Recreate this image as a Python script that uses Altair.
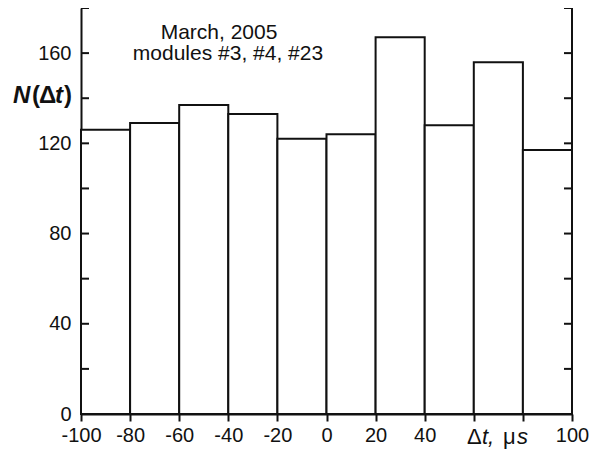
import altair as alt
import pandas as pd

# histogram data
bin_start = [-100, -80, -60, -40, -20, 0, 20, 40, 60, 80]
bin_end = [-80, -60, -40, -20, 0, 20, 40, 60, 80, 100]
counts = [126, 129, 137, 133, 122, 124, 167, 128, 156, 117]

x_ticks = [-100, -80, -60, -40, -20, 0, 20, 40, 60, 80, 100]
y_labels = [0, 40, 80, 120, 160]
y_minor = [20, 40, 60, 80, 100, 120, 140, 160, 180]

note_lines = ["March, 2005", "modules #3, #4, #23"]
# axis titles split into upright / italic pieces
ytitle_parts = ["N", "(", "Δ", "t", ")"]
ytitle_italic = [True, False, False, True, False]
xtitle_parts = ["Δ", "t,", "μ", "s"]
xtitle_italic = [False, True, False, True]

FONT = "Liberation Sans"
INK = "#111111"
W, H = 491, 406

bars_df = pd.DataFrame({"start": bin_start, "end": bin_end, "n": counts})
ticks_df = pd.DataFrame({"v": y_minor})
frame_df = pd.DataFrame({"x": [100], "y0": [0], "y1": [180]})
one_df = pd.DataFrame({"k": [0]})

xscale = alt.Scale(domain=[-100, 100], nice=False, zero=False)
yscale = alt.Scale(domain=[0, 180], nice=False)

bars = alt.Chart(bars_df).mark_rect(
    fill="white", stroke=INK, strokeWidth=2
).encode(
    x=alt.X("start:Q", scale=xscale, title=None, axis=alt.Axis(
        values=x_ticks,
        labelExpr="(datum.value == 60 || datum.value == 80) ? '' : '' + datum.value",
        labelOverlap=False, labelFlush=False,
        tickSize=7, tickWidth=2, tickColor=INK,
        domainWidth=2, domainColor=INK,
        labelFont=FONT, labelFontSize=20, labelColor=INK, labelPadding=4,
        grid=False,
    )),
    x2="end:Q",
    y=alt.Y("n:Q", scale=yscale, title=None, axis=alt.Axis(
        values=y_labels, ticks=False, labelOverlap=False, labelFlush=False,
        domainWidth=2, domainColor=INK,
        labelFont=FONT, labelFontSize=20, labelColor=INK, labelPadding=10,
        grid=False,
    )),
    y2=alt.datum(0),
)

left_ticks = alt.Chart(ticks_df).mark_rule(color=INK, strokeWidth=2).encode(
    y=alt.Y("v:Q", scale=yscale), x=alt.value(0), x2=alt.value(8)
)
right_ticks = alt.Chart(ticks_df).mark_rule(color=INK, strokeWidth=2).encode(
    y=alt.Y("v:Q", scale=yscale), x=alt.value(W - 8), x2=alt.value(W)
)
right_axis = alt.Chart(frame_df).mark_rule(color=INK, strokeWidth=2).encode(
    x=alt.X("x:Q", scale=xscale), y=alt.Y("y0:Q", scale=yscale), y2="y1:Q"
)

layers = [bars, left_ticks, right_ticks, right_axis]

note_pos = [(138, 25), (147, 46)]
for line, (px, py) in zip(note_lines, note_pos):
    layers.append(alt.Chart(one_df).mark_text(
        text=line, font=FONT, fontSize=21, color=INK,
        align="center", baseline="middle"
    ).encode(x=alt.value(px), y=alt.value(py)))

ytitle_x = [-68, -49, -42, -26, -17]
for part, ital, px in zip(ytitle_parts, ytitle_italic, ytitle_x):
    layers.append(alt.Chart(one_df).mark_text(
        text=part, font=FONT, fontSize=24, fontWeight="bold",
        fontStyle="italic" if ital else "normal", color=INK,
        align="left", baseline="middle"
    ).encode(x=alt.value(px), y=alt.value(88)))

xtitle_x = [386, 401, 422, 436]
for part, ital, px in zip(xtitle_parts, xtitle_italic, xtitle_x):
    layers.append(alt.Chart(one_df).mark_text(
        text=part, font=FONT, fontSize=22,
        fontStyle="italic" if ital else "normal", color=INK,
        align="left", baseline="middle"
    ).encode(x=alt.value(px), y=alt.value(429)))

chart = alt.layer(*layers).properties(
    width=W, height=H,
    autosize=alt.AutoSizeParams(type="none"),
    padding={"left": 73, "top": 0, "right": 17, "bottom": 40},
    background="white",
).configure_view(stroke=None)

chart.save("out.html", embed_options={"renderer": "svg", "actions": False})
